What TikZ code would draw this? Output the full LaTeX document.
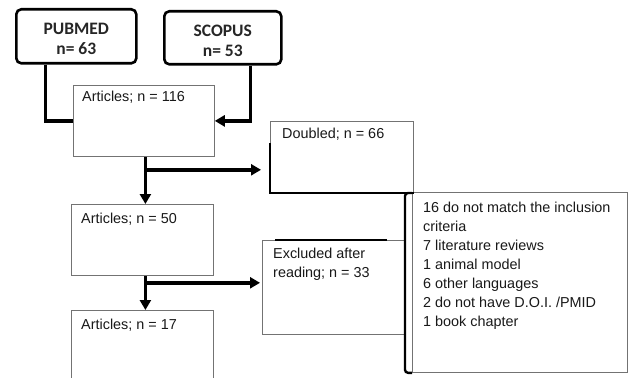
\documentclass[tikz,border=0pt]{standalone}
\usepackage{fontspec}
\setmainfont{Liberation Sans}
\newfontfamily\calb{Carlito}
\usetikzlibrary{arrows.meta,calc}
\begin{document}
\begin{tikzpicture}[x=1pt,y=-1pt,
  box/.style={draw=black!55, line width=0.8pt, anchor=north west, inner sep=0pt, fill=white},
  srcbox/.style={draw=black, line width=2.6pt, rounded corners=5pt, anchor=north west, inner sep=0pt},
  srctxt/.style={inner sep=0pt, align=center, font=\calb\bfseries\fontsize{17.5}{20}\selectfont, text=black!85},
  txt/.style={inner sep=0pt, align=left, font=\fontsize{14.4}{19}\selectfont, text=black!90},
  conn/.style={line width=3.4pt, draw=black},
  arr/.style={conn, -{Triangle[length=10pt,width=11pt]}},
  thk/.style={line width=2.4pt, draw=black}
]
\useasboundingbox (0,0) rectangle (631,377);
\clip (0,0) rectangle (631,377);

% source boxes
\node[srcbox, minimum width=120, minimum height=54] (pub) at (15,8) {};
\node[srcbox, minimum width=117, minimum height=53] (sco) at (163,10) {};
\node[srctxt] (pubt) at ($(pub.center)+(0,2.7)$) {PUBMED\\n= 63};
\node[srctxt] (scot) at ($(sco.center)+(0,3.2)$) {SCOPUS\\n= 53};

% boxes
\node[box, minimum width=141, minimum height=71] (a116) at (73,85) {};
\node[box, minimum width=143, minimum height=71] (dbl) at (270,121) {};
\node[box, minimum width=142, minimum height=71] (a50) at (71,204) {};
\node[box, minimum width=142, minimum height=94] (exc) at (262,240) {};
\node[box, minimum width=215, minimum height=180] (lst) at (412,192) {};
\node[box, minimum width=142, minimum height=90] (a17) at (71,310) {};

% texts
\node[txt, anchor=base west] (a116t) at ($(a116.north west)+(9,17)$) {Articles; n = 116};
\node[txt, anchor=base west] (dblt) at ($(dbl.north west)+(12,18)$) {Doubled; n = 66};
\node[txt, anchor=base west] (a50t) at ($(a50.north west)+(10,19)$) {Articles; n = 50};
\node[txt, anchor=base west] (a17t) at ($(a17.north west)+(10,19)$) {Articles; n = 17};
\node[txt, anchor=north west] (exct) at ($(exc.north west)+(11,7.5)$) {Excluded after\\reading; n = 33};
\node[txt, anchor=north west] (lstt) at ($(lst.north west)+(11,9.5)$) {16 do not match the inclusion\\criteria\\7 literature reviews\\1 animal model\\6 other languages\\2 do not have D.O.I. /PMID\\1 book chapter};

% connectors
\coordinate (p1) at ($(pub.south west)!0.25!(pub.south east)$);
\coordinate (s1) at ($(sco.south west)!0.73!(sco.south east)$);
\draw[conn] (p1) |- (a116.west);
\draw[arr] (s1) |- (a116.east);
\coordinate (v1) at ($(a116.south)+(1.5,0)$);
\coordinate (b1) at ($(a116.south)+(1.5,13)$);
\draw[arr] (v1) -- (v1 |- a50.north);
\draw[arr, shorten >=9pt] (b1) -- (b1 -| dbl.west);
\coordinate (v2) at ($(a50.south)+(3,0)$);
\coordinate (b2) at ($(a50.south)+(3,7)$);
\draw[arr] (v2) -- (v2 |- a17.north);
\draw[arr, shorten >=2pt] (b2) -- (b2 -| exc.west);

% thick edge accents
\draw[thk] ($(dbl.south west)+(0,-50)$) -- (dbl.south west) -- (dbl.south east);
\draw[thk] ($(exc.north west)+(13,0)$) -- ($(exc.north west)+(125,0)$);
\draw[thk, rounded corners=3pt] ($(lst.north west)+(0,1)$) -- ++(-7,0) -- ($(lst.south west)+(-7,0)$) -- (lst.south west);
\end{tikzpicture}
\end{document}
